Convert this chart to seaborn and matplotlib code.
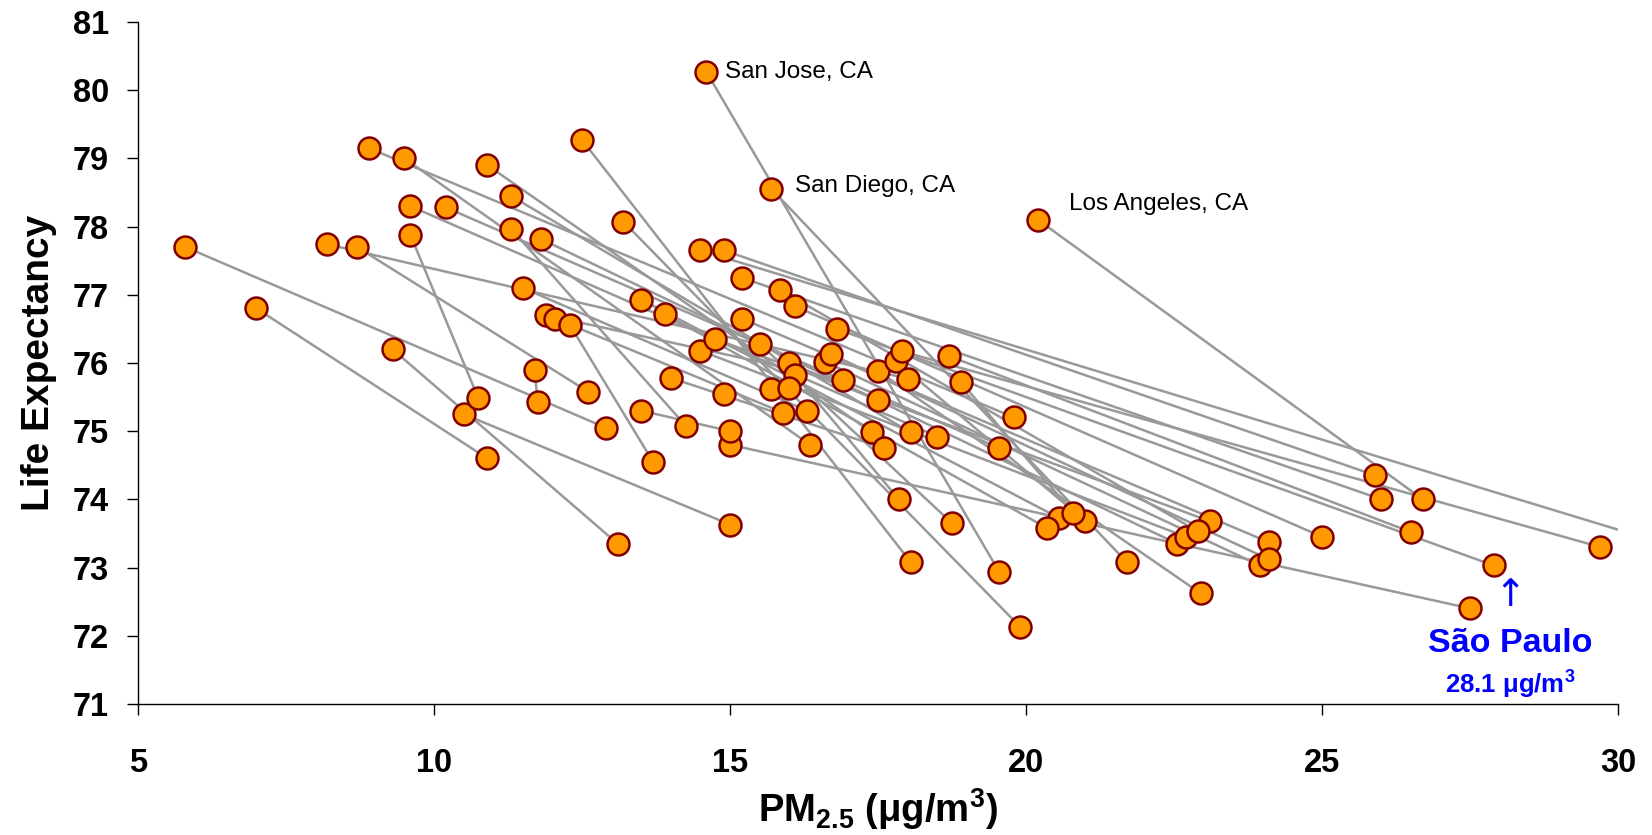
import numpy as np
import pandas as pd
import matplotlib
matplotlib.use("Agg")
import matplotlib.pyplot as plt
import seaborn as sns

# later period (cleaner air, upper left end of each line)
pm_late = [5.8, 7.0, 8.2, 8.7, 8.9, 9.3, 9.5, 9.6, 9.6, 10.2,
           10.5, 10.9, 11.3, 11.3, 11.5, 11.7, 11.8, 11.9, 12.05, 12.3,
           12.5, 13.2, 13.5, 13.9, 14.0, 13.5, 14.5, 14.6, 14.5, 14.75,
           14.9, 15.2, 15.2, 15.5, 15.7, 15.85, 16.0, 16.1, 16.1, 16.6,
           16.7, 16.8, 17.5, 17.8, 17.9, 18.7, 18.9, 20.2, 15.0, 15.7]
le_late = [77.7, 76.8, 77.74, 77.7, 79.15, 76.2, 79.0, 78.3, 77.88, 78.28,
           75.25, 78.9, 78.45, 77.97, 77.1, 75.9, 77.82, 76.7, 76.65, 76.55,
           79.27, 78.07, 76.93, 76.72, 75.78, 75.3, 77.65, 80.27, 76.18, 76.35,
           77.65, 77.25, 76.65, 76.28, 78.55, 77.07, 76.0, 76.83, 75.82, 76.02,
           76.13, 76.5, 75.88, 76.03, 76.17, 76.1, 75.72, 78.1, 74.8, 75.62]

# earlier period (dirtier air, lower right end of each line)
pm_early = [12.9, 10.9, 18.0, 12.6, 19.8, 13.1, 16.35, 18.5, 10.75, 19.55,
            15.0, 17.4, 18.05, 14.25, 16.3, 11.75, 22.55, 16.9, 15.9, 13.7,
            18.05, 19.9, 20.55, 20.35, 17.6, 15.0, 31.0, 19.55, 22.7, 23.1,
            25.9, 26.0, 24.1, 18.75, 21.7, 22.9, 17.5, 25.0, 17.85, 23.95,
            24.1, 27.9, 22.95, 21.0, 29.7, 26.5, 20.8, 26.7, 27.5, 16.0]
le_early = [75.05, 74.6, 75.77, 75.58, 75.2, 73.35, 74.8, 74.92, 75.48, 74.75,
            73.63, 74.98, 74.98, 75.08, 75.3, 75.42, 73.35, 75.75, 75.27, 74.55,
            73.08, 72.13, 73.73, 73.58, 74.75, 75.0, 73.29, 72.93, 73.45, 73.68,
            74.35, 74.0, 73.37, 73.65, 73.08, 73.53, 75.45, 73.45, 74.0, 73.03,
            73.12, 73.03, 72.62, 73.68, 73.3, 73.52, 73.8, 74.0, 72.4, 75.63]

lone_pm = [14.9]
lone_le = [75.55]

label_names = ["San Jose, CA", "San Diego, CA", "Los Angeles, CA"]
label_x = [14.92, 16.1, 20.72]
label_y = [80.27, 78.6, 78.33]

n = len(pm_late)
df = pd.DataFrame({
    "city": list(range(n)) * 2,
    "pm": pm_late + pm_early,
    "le": le_late + le_early,
})
pts = pd.DataFrame({"pm": pm_late + pm_early + lone_pm,
                    "le": le_late + le_early + lone_le})

sns.set_style("ticks")
plt.rcParams["font.family"] = ["Liberation Sans", "DejaVu Sans"]
plt.rcParams["mathtext.default"] = "regular"
plt.rcParams["text.color"] = "black"
plt.rcParams["axes.labelcolor"] = "black"
plt.rcParams["xtick.color"] = "black"
plt.rcParams["ytick.color"] = "black"

fig = plt.figure(figsize=(16.52, 8.35), dpi=100)
ax = fig.add_axes([0.0835, 0.157, 0.896, 0.8167])

sns.lineplot(data=df, x="pm", y="le", units="city", estimator=None, sort=False,
             color="#999999", linewidth=1.8, ax=ax, zorder=1)
sns.scatterplot(data=pts, x="pm", y="le", s=250, color="#FF9900",
                edgecolor="#800000", linewidth=1.8, ax=ax, zorder=3)

for name, x, y in zip(label_names, label_x, label_y):
    ax.text(x, y, name, fontsize=17.5, va="center", ha="left", color="black")

ax.text(28.18, 72.58, "\u2191", color="#0000FF", fontsize=27, ha="center", va="center",
        family=["DejaVu Sans"])
ax.text(28.18, 71.88, "São Paulo", color="#0000FF", fontsize=24.5, fontweight="bold",
        ha="center", va="center")
ax.text(28.18, 71.28, "28.1 μg/m$^{3}$", color="#0000FF", fontsize=18.5, fontweight="bold",
        ha="center", va="center")

ax.set_xlim(5, 30)
ax.set_ylim(71, 81)
ax.set_xticks(range(5, 31, 5))
ax.set_yticks(range(71, 82))
ax.tick_params(axis="both", direction="out", length=8, width=1.0, color="black",
               labelcolor="black")
ax.tick_params(axis="y", pad=13)
ax.tick_params(axis="x", pad=24)
for lab in ax.get_xticklabels() + ax.get_yticklabels():
    lab.set_fontsize(23.5)
    lab.set_fontweight("bold")

ax.set_xlabel("PM$_{2.5}$ (μg/m$^{3}$)", fontsize=27.5, fontweight="bold", labelpad=5,
              color="black")
ax.set_ylabel("Life Expectancy", fontsize=28, fontweight="bold", labelpad=11,
              color="black")

sns.despine(ax=ax)
for sp in ["left", "bottom"]:
    ax.spines[sp].set_linewidth(1.0)
    ax.spines[sp].set_color("black")

fig.savefig("out.png", dpi=100)
